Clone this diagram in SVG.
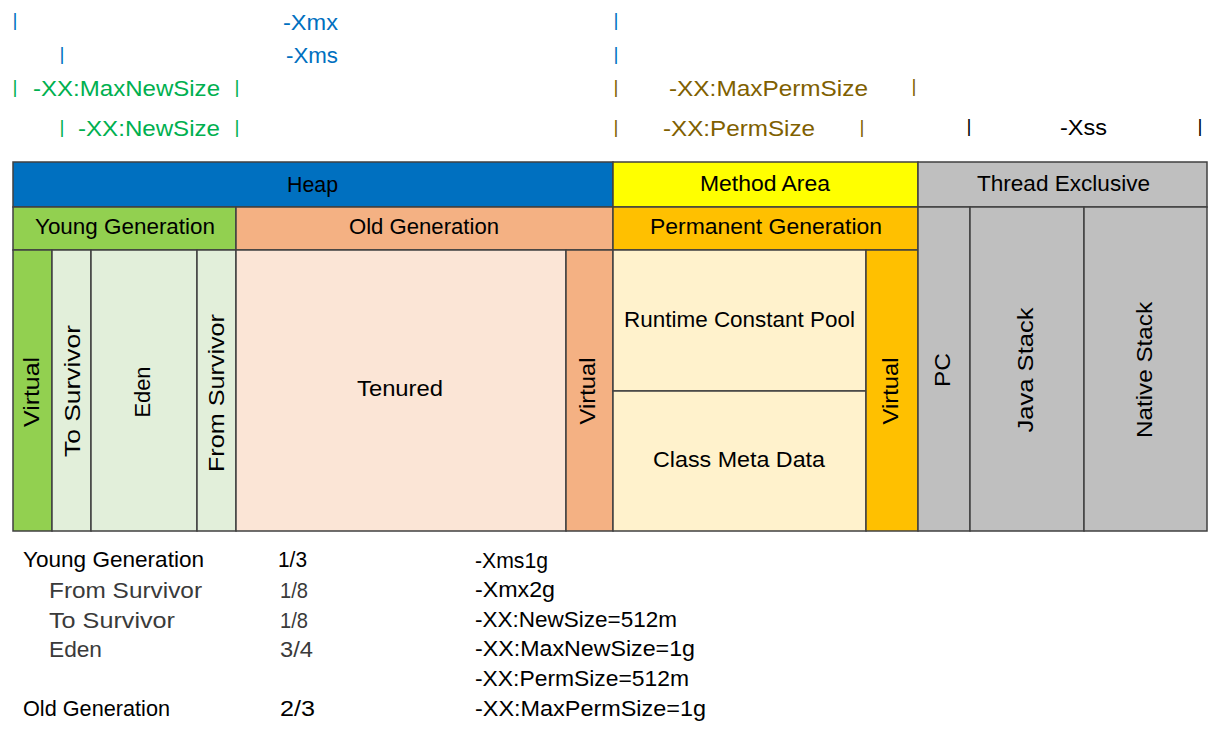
<svg xmlns="http://www.w3.org/2000/svg" width="1219" height="731" viewBox="0 0 1219 731">
<style>
text{font-family:"Liberation Sans",Arial,sans-serif;font-size:22px;fill:#000}
.c{text-anchor:middle}
.bar{font-size:19px;text-anchor:middle}
.blue{fill:#0070C0}
.green{fill:#00B050}
.brown{fill:#7F6000}
.sub{fill:#3a3a3a}
.box{stroke:#404040;stroke-width:1.5}
</style>
<rect width="1219" height="731" fill="#fff"/>

<g id="top-labels">
  <text class="bar blue" x="15" y="26">|</text>
  <text class="blue" x="283" y="30" textLength="55" lengthAdjust="spacingAndGlyphs">-Xmx</text>
  <text class="bar blue" x="616" y="26">|</text>
  <text class="bar blue" x="62" y="60">|</text>
  <text class="blue" x="286" y="63" textLength="52" lengthAdjust="spacingAndGlyphs">-Xms</text>
  <text class="bar blue" x="616" y="60">|</text>
  <text class="bar green" x="15" y="93">|</text>
  <text class="green" x="33" y="96" textLength="187" lengthAdjust="spacingAndGlyphs">-XX:MaxNewSize</text>
  <text class="bar green" x="237" y="93">|</text>
  <text class="bar brown" x="616" y="93">|</text>
  <text class="brown" x="669" y="96" textLength="199" lengthAdjust="spacingAndGlyphs">-XX:MaxPermSize</text>
  <text class="bar brown" x="914" y="92">|</text>
  <text class="bar green" x="62" y="133">|</text>
  <text class="green" x="78" y="136" textLength="142" lengthAdjust="spacingAndGlyphs">-XX:NewSize</text>
  <text class="bar green" x="237" y="133">|</text>
  <text class="bar brown" x="616" y="133">|</text>
  <text class="brown" x="663" y="136" textLength="152" lengthAdjust="spacingAndGlyphs">-XX:PermSize</text>
  <text class="bar brown" x="862" y="133">|</text>
  <text class="bar" x="969" y="132">|</text>
  <text x="1060" y="135" textLength="47" lengthAdjust="spacingAndGlyphs">-Xss</text>
  <text class="bar" x="1200" y="132">|</text>
</g>

<g id="heap">
  <rect class="box" x="13" y="162" width="600" height="45" fill="#0070C0"/>
  <text x="287" y="192" textLength="51" lengthAdjust="spacingAndGlyphs">Heap</text>
</g>
<g id="method-area">
  <rect class="box" x="613" y="162" width="305" height="45" fill="#FFFF00"/>
  <text x="700" y="191" textLength="130" lengthAdjust="spacingAndGlyphs">Method Area</text>
</g>
<g id="thread-exclusive">
  <rect class="box" x="918" y="162" width="289" height="45" fill="#BFBFBF"/>
  <text x="977" y="191" textLength="173" lengthAdjust="spacingAndGlyphs">Thread Exclusive</text>
</g>
<g id="young-generation">
  <rect class="box" x="13" y="207" width="223" height="43" fill="#92D050"/>
  <text x="35" y="234" textLength="180" lengthAdjust="spacingAndGlyphs">Young Generation</text>
</g>
<g id="old-generation">
  <rect class="box" x="236" y="207" width="377" height="43" fill="#F4B183"/>
  <text x="349" y="234" textLength="150" lengthAdjust="spacingAndGlyphs">Old Generation</text>
</g>
<g id="permanent-generation">
  <rect class="box" x="613" y="207" width="305" height="43" fill="#FFC000"/>
  <text x="650" y="234" textLength="232" lengthAdjust="spacingAndGlyphs">Permanent Generation</text>
</g>

<g id="young-virtual">
  <rect class="box" x="13" y="250" width="39" height="281" fill="#92D050"/>
  <text class="c" transform="translate(39 392) rotate(-90)" textLength="70" lengthAdjust="spacingAndGlyphs">Virtual</text>
</g>
<g id="to-survivor">
  <rect class="box" x="52" y="250" width="39" height="281" fill="#E2EFDA"/>
  <text class="c" transform="translate(80 391) rotate(-90)" textLength="132" lengthAdjust="spacingAndGlyphs">To Survivor</text>
</g>
<g id="eden">
  <rect class="box" x="91" y="250" width="106" height="281" fill="#E2EFDA"/>
  <text class="c" transform="translate(150 392) rotate(-90)" textLength="51" lengthAdjust="spacingAndGlyphs">Eden</text>
</g>
<g id="from-survivor">
  <rect class="box" x="197" y="250" width="39" height="281" fill="#E2EFDA"/>
  <text class="c" transform="translate(224 393) rotate(-90)" textLength="158" lengthAdjust="spacingAndGlyphs">From Survivor</text>
</g>
<g id="tenured">
  <rect class="box" x="236" y="250" width="330" height="281" fill="#FBE5D6"/>
  <text x="357" y="396" textLength="86" lengthAdjust="spacingAndGlyphs">Tenured</text>
</g>
<g id="old-virtual">
  <rect class="box" x="566" y="250" width="47" height="281" fill="#F4B183"/>
  <text class="c" transform="translate(595 391) rotate(-90)" textLength="67" lengthAdjust="spacingAndGlyphs">Virtual</text>
</g>
<g id="runtime-constant-pool">
  <rect class="box" x="613" y="250" width="253" height="141" fill="#FFF2CC"/>
  <text x="624" y="327" textLength="231" lengthAdjust="spacingAndGlyphs">Runtime Constant Pool</text>
</g>
<g id="class-meta-data">
  <rect class="box" x="613" y="391" width="253" height="140" fill="#FFF2CC"/>
  <text x="653" y="467" textLength="172" lengthAdjust="spacingAndGlyphs">Class Meta Data</text>
</g>
<g id="perm-virtual">
  <rect class="box" x="866" y="250" width="52" height="281" fill="#FFC000"/>
  <text class="c" transform="translate(898 391) rotate(-90)" textLength="67" lengthAdjust="spacingAndGlyphs">Virtual</text>
</g>
<g id="pc">
  <rect class="box" x="918" y="207" width="52" height="324" fill="#BFBFBF"/>
  <text class="c" transform="translate(950 370) rotate(-90)" textLength="34" lengthAdjust="spacingAndGlyphs">PC</text>
</g>
<g id="java-stack">
  <rect class="box" x="970" y="207" width="114" height="324" fill="#BFBFBF"/>
  <text class="c" transform="translate(1033 370) rotate(-90)" textLength="125" lengthAdjust="spacingAndGlyphs">Java Stack</text>
</g>
<g id="native-stack">
  <rect class="box" x="1084" y="207" width="123" height="324" fill="#BFBFBF"/>
  <text class="c" transform="translate(1152 370) rotate(-90)" textLength="136" lengthAdjust="spacingAndGlyphs">Native Stack</text>
</g>

<g id="ratios">
  <text x="23" y="567" textLength="181" lengthAdjust="spacingAndGlyphs">Young Generation</text>
  <text x="278" y="567" textLength="29" lengthAdjust="spacingAndGlyphs">1/3</text>
  <text class="sub" x="49" y="598" textLength="153" lengthAdjust="spacingAndGlyphs">From Survivor</text>
  <text class="sub" x="280" y="598" textLength="28" lengthAdjust="spacingAndGlyphs">1/8</text>
  <text class="sub" x="49" y="628" textLength="126" lengthAdjust="spacingAndGlyphs">To Survivor</text>
  <text class="sub" x="280" y="628" textLength="28" lengthAdjust="spacingAndGlyphs">1/8</text>
  <text class="sub" x="49" y="657" textLength="53" lengthAdjust="spacingAndGlyphs">Eden</text>
  <text class="sub" x="280" y="657" textLength="33" lengthAdjust="spacingAndGlyphs">3/4</text>
  <text x="23" y="716" textLength="147" lengthAdjust="spacingAndGlyphs">Old Generation</text>
  <text x="280" y="716" textLength="35" lengthAdjust="spacingAndGlyphs">2/3</text>
</g>
<g id="options">
  <text x="475" y="568" textLength="73" lengthAdjust="spacingAndGlyphs">-Xms1g</text>
  <text x="475" y="597" textLength="80" lengthAdjust="spacingAndGlyphs">-Xmx2g</text>
  <text x="475" y="627" textLength="202" lengthAdjust="spacingAndGlyphs">-XX:NewSize=512m</text>
  <text x="475" y="656" textLength="220" lengthAdjust="spacingAndGlyphs">-XX:MaxNewSize=1g</text>
  <text x="475" y="686" textLength="214" lengthAdjust="spacingAndGlyphs">-XX:PermSize=512m</text>
  <text x="475" y="716" textLength="231" lengthAdjust="spacingAndGlyphs">-XX:MaxPermSize=1g</text>
</g>
</svg>
